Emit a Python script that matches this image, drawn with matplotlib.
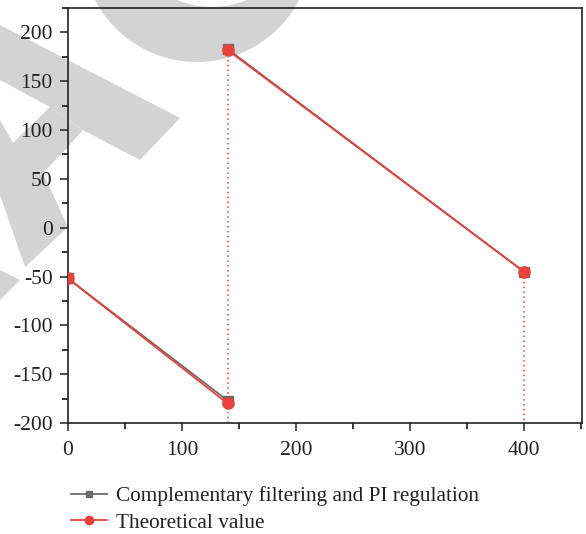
import numpy as np
import matplotlib
matplotlib.use("Agg")
import matplotlib.pyplot as plt
from matplotlib.patches import Polygon, Circle
from matplotlib.transforms import IdentityTransform
from matplotlib.ticker import MultipleLocator

# ---- data ----
seg1_x = [0, 140]
seg2_x = [140, 400]
cf_seg1_y = [-52, -177]
cf_seg2_y = [183, -45]
th_seg1_y = [-52, -180]
th_seg2_y = [182, -45]
drop_x = [140, 400]
drop_top = [182, -45]
x_ticks = [0, 100, 200, 300, 400]
y_ticks = [-200, -150, -100, -50, 0, 50, 100, 150, 200]
labels = ["Complementary filtering and PI regulation", "Theoretical value"]

W, H = 586, 534
plt.rcParams['font.family'] = ['Liberation Serif', 'DejaVu Serif']
plt.rcParams['axes.unicode_minus'] = False
fig = plt.figure(figsize=(W / 100, H / 100), dpi=100)

# ---- watermark (pixel coords, y down) ----
wm = '#d3d3d3'
def px(pts):
    return [(x, H - y) for x, y in pts]
for poly in [
    [(0, 25), (180, 118), (140, 160), (83, 130), (50, 107), (0, 80)],
    [(0, 120), (13, 143), (50, 107), (83, 130), (68, 147), (43, 173), (68, 227), (25, 267), (0, 195)],
    [(0, 270), (20, 280), (0, 300)],
]:
    fig.add_artist(Polygon(px(poly), closed=True, facecolor=wm, edgecolor='none',
                           transform=IdentityTransform(), zorder=0))
fig.add_artist(Circle((197, H + 53), 115, facecolor=wm, edgecolor='none',
                      transform=IdentityTransform(), zorder=0))
fig.add_artist(Circle((212, H + 84), 91, facecolor='white', edgecolor='none',
                      transform=IdentityTransform(), zorder=0.5))

ax = fig.add_axes([68 / W, 1 - 423 / H, (582 - 68) / W, (423 - 8) / H])
ax.set_facecolor('none')
ax.set_zorder(1)

gray = '#6b6b6b'
red = '#e8413b'

for xs, top in zip(drop_x, drop_top):
    ax.plot([xs, xs], [top, -200], linestyle=(0, (1, 2.2)), color=red, lw=1.1, zorder=2)

ax.plot(seg1_x, cf_seg1_y, color=gray, lw=1.3, marker='s', ms=7, zorder=3)
ax.plot(seg2_x, cf_seg2_y, color=gray, lw=1.3, marker='s', ms=7, zorder=3)
ax.plot(seg1_x, th_seg1_y, color=red, lw=1.3, marker='o', ms=8, zorder=4)
ax.plot(seg2_x, th_seg2_y, color=red, lw=1.3, marker='o', ms=8, zorder=4)

ax.set_xlim(0, 451)
ax.set_ylim(-200, 225)
ax.set_xticks(x_ticks)
ax.set_yticks(y_ticks)
ax.xaxis.set_minor_locator(MultipleLocator(50))
ax.yaxis.set_minor_locator(MultipleLocator(25))
ax.tick_params(which='major', direction='out', length=6, width=1.1, labelsize=15.5, colors='#222222')
ax.tick_params(which='minor', direction='out', length=4, width=1.1)
ax.tick_params(axis='y', pad=5)
ax.tick_params(axis='x', pad=7)
ax.tick_params(top=False, right=False, which='both')
for s in ax.spines.values():
    s.set_linewidth(1.2)
    s.set_color('#222222')

h1 = plt.Line2D([], [], color=gray, lw=1.3, marker='s', ms=5)
h2 = plt.Line2D([], [], color=red, lw=1.3, marker='o', ms=6)
leg = fig.legend([h1, h2], labels, loc='upper left', bbox_to_anchor=(62 / W, 1 - 478 / H),
                 frameon=False, fontsize=15.3, handlelength=1.7, labelspacing=0.3,
                 handletextpad=0.45, borderaxespad=0)
for t in leg.get_texts():
    t.set_color('#222222')

fig.savefig('out.png', dpi=100)
